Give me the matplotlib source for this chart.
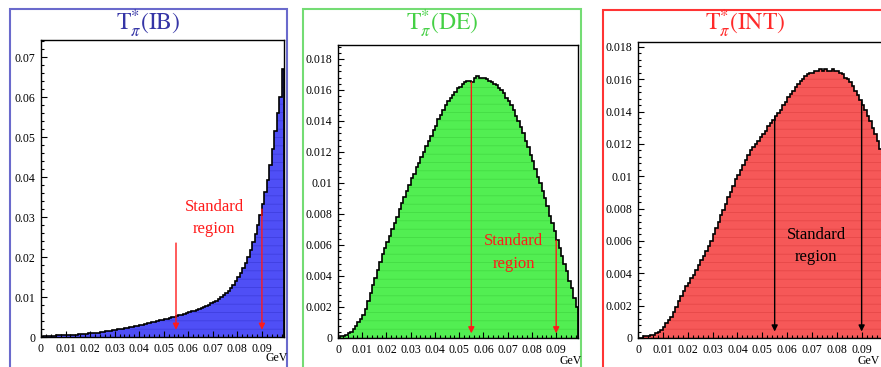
import numpy as np
import matplotlib.pyplot as plt
from matplotlib.patches import Rectangle
from matplotlib.ticker import MultipleLocator, FormatStrFormatter

# --- Data (bin contents, 1 MeV bins from 0 to 0.099 GeV) ---
ib_values = [
    0.0001, 0.0002, 0.0002, 0.0003, 0.0003, 0.0003, 0.0004, 0.0004, 0.0004, 0.0005,
    0.0005, 0.0005, 0.0006, 0.0006, 0.0006, 0.0007, 0.0007, 0.0008, 0.0008, 0.0009,
    0.0009, 0.0010, 0.0010, 0.0011, 0.0012, 0.0013, 0.0014, 0.0015, 0.0016, 0.0017,
    0.0018, 0.0019, 0.0020, 0.0021, 0.0022, 0.0023, 0.0024, 0.0026, 0.0027, 0.0028,
    0.0030, 0.0031, 0.0033, 0.0034, 0.0035, 0.0037, 0.0038, 0.0040, 0.0042, 0.0043,
    0.0045, 0.0046, 0.0048, 0.0049, 0.0051, 0.0052, 0.0054, 0.0056, 0.0058, 0.0060,
    0.0062, 0.0064, 0.0066, 0.0068, 0.0070, 0.0072, 0.0075, 0.0078, 0.0081, 0.0084,
    0.0087, 0.0091, 0.0095, 0.0099, 0.0104, 0.0110, 0.0116, 0.0123, 0.0131, 0.0140,
    0.0150, 0.0161, 0.0173, 0.0186, 0.0201, 0.0218, 0.0237, 0.0258, 0.0281, 0.0306,
    0.0333, 0.0362, 0.0394, 0.0430, 0.0470, 0.0515, 0.0560, 0.0600, 0.0670,
]
de_values = [
    0.0000, 0.0001, 0.0001, 0.0002, 0.0003, 0.0004, 0.0006, 0.0008, 0.0010, 0.0012,
    0.0015, 0.0019, 0.0024, 0.0029, 0.0034, 0.0039, 0.0044, 0.0049, 0.0054, 0.0058,
    0.0062, 0.0066, 0.0070, 0.0074, 0.0078, 0.0083, 0.0087, 0.0091, 0.0095, 0.0099,
    0.0103, 0.0106, 0.0110, 0.0113, 0.0117, 0.0120, 0.0124, 0.0127, 0.0130, 0.0134,
    0.0137, 0.0141, 0.0144, 0.0147, 0.0150, 0.0153, 0.0155, 0.0157, 0.0159, 0.0161,
    0.0162, 0.0164, 0.0165, 0.0166, 0.0166, 0.0165, 0.0168, 0.0169, 0.0168, 0.0168,
    0.0168, 0.0167, 0.0166, 0.0165, 0.0164, 0.0163, 0.0161, 0.0160, 0.0158, 0.0155,
    0.0153, 0.0150, 0.0147, 0.0143, 0.0140, 0.0136, 0.0132, 0.0127, 0.0123, 0.0118,
    0.0114, 0.0109, 0.0104, 0.0100, 0.0095, 0.0090, 0.0085, 0.0079, 0.0074, 0.0069,
    0.0063, 0.0058, 0.0053, 0.0048, 0.0043, 0.0037, 0.0032, 0.0026, 0.0020,
]
int_values = [
    0.0000, 0.0000, 0.0001, 0.0001, 0.0001, 0.0002, 0.0002, 0.0003, 0.0004, 0.0005,
    0.0007, 0.0009, 0.0011, 0.0013, 0.0016, 0.0019, 0.0023, 0.0026, 0.0029, 0.0032,
    0.0034, 0.0037, 0.0039, 0.0042, 0.0045, 0.0048, 0.0051, 0.0054, 0.0057, 0.0060,
    0.0064, 0.0068, 0.0072, 0.0076, 0.0079, 0.0083, 0.0087, 0.0090, 0.0094, 0.0098,
    0.0101, 0.0104, 0.0107, 0.0110, 0.0113, 0.0116, 0.0118, 0.0120, 0.0122, 0.0124,
    0.0126, 0.0128, 0.0131, 0.0133, 0.0135, 0.0137, 0.0139, 0.0141, 0.0144, 0.0146,
    0.0149, 0.0151, 0.0153, 0.0155, 0.0157, 0.0159, 0.0160, 0.0162, 0.0163, 0.0164,
    0.0164, 0.0165, 0.0165, 0.0166, 0.0165, 0.0166, 0.0165, 0.0165, 0.0166, 0.0165,
    0.0165, 0.0164, 0.0163, 0.0161, 0.0160, 0.0158, 0.0156, 0.0153, 0.0150, 0.0147,
    0.0144, 0.0141, 0.0137, 0.0134, 0.0130, 0.0126, 0.0122, 0.0117, 0.0110,
]

titles = [r'$\mathrm{T}^{*}_{\pi}\mathrm{(IB)}$', r'$\mathrm{T}^{*}_{\pi}\mathrm{(DE)}$',
          r'$\mathrm{T}^{*}_{\pi}\mathrm{(INT)}$']
arrow_x = [0.055, 0.09]
arrow_tops = [[0.0235, 0.032], [0.0165, 0.0063], [0.0137, 0.0146]]
arrow_tips = [0.0018, 0.0003, 0.0004]
label_pos = [(0.0705, 0.0298), (0.0725, 0.0055), (0.0717, 0.0057)]
ylims = [0.0743, 0.0189, 0.0183]
ymajor = [0.01, 0.002, 0.002]
yminor = [0.002, 0.0004, 0.0004]

# --- Style ---
plt.rcParams['font.family'] = ['Liberation Serif', 'DejaVu Serif']
plt.rcParams['mathtext.fontset'] = 'stix'
plt.rcParams['hatch.linewidth'] = 0.5

W, H = 881, 367
fig = plt.figure(figsize=(W / 100, H / 100), dpi=100)
fig.patch.set_facecolor('white')

def px_axes(left, right, top, bottom):
    return fig.add_axes([left / W, (H - bottom) / H, (right - left) / W, (bottom - top) / H])

axes_px = [(41, 284, 40, 337), (338, 578, 45, 338), (638, 884, 42, 338)]
frames_px = [(10, 287, 9), (303, 581, 9), (603, 887, 10)]
gev_px = [(288, 358), (582, 361), (880, 361)]
fill_colors = ['#4f4ff6', '#52ee52', '#f65858']
hatch_colors = ['#3c3cdc', '#42d842', '#e24444']
frame_colors = ['#6a6acc', '#74dc74', '#ff3434']
title_colors = ['#3535a6', '#45d045', '#ff2a2a']
note_colors = ['#ff1a1a', '#ff1a1a', 'black']
series = [ib_values, de_values, int_values]

edges = np.linspace(0, 0.099, len(ib_values) + 1)

for i in range(3):
    l, r, t, b = axes_px[i]
    ax = px_axes(l, r, t, b)
    vals = np.array(series[i])

    ax.stairs(vals, edges, fill=True, facecolor=fill_colors[i], edgecolor=hatch_colors[i],
              hatch='--', linewidth=0)
    ax.stairs(vals, edges, color='black', linewidth=1.2)

    ax.set_xlim(0, 0.099)
    ax.set_ylim(0, ylims[i])

    ax.xaxis.set_major_locator(MultipleLocator(0.01))
    ax.xaxis.set_minor_locator(MultipleLocator(0.002))
    ax.yaxis.set_major_locator(MultipleLocator(ymajor[i]))
    ax.yaxis.set_minor_locator(MultipleLocator(yminor[i]))
    ax.xaxis.set_major_formatter(FormatStrFormatter('%g'))
    ax.yaxis.set_major_formatter(FormatStrFormatter('%g'))
    ax.tick_params(which='both', direction='in', top=False, right=False, labelsize=8.5,
                   width=0.8, pad=4)
    ax.tick_params(which='major', length=4)
    ax.tick_params(which='minor', length=2)
    for s in ax.spines.values():
        s.set_linewidth(1.0)

    for x, top in zip(arrow_x, arrow_tops[i]):
        ax.annotate('', xy=(x, arrow_tips[i]), xytext=(x, top),
                    arrowprops=dict(arrowstyle='-|>', color=note_colors[i], lw=1.0,
                                    mutation_scale=9, shrinkA=0, shrinkB=0))
    ax.text(label_pos[i][0], label_pos[i][1], 'Standard\nregion', color=note_colors[i],
            fontsize=12, ha='center', va='center', linespacing=1.55)

    gx, gy = gev_px[i]
    fig.text(gx / W, (H - gy) / H, 'GeV', fontsize=8.5, ha='right', va='center')

    fl, fr, ft = frames_px[i]
    fig.add_artist(Rectangle((fl / W, -0.1), (fr - fl) / W, (H - ft) / H + 0.1,
                             transform=fig.transFigure, fill=False,
                             edgecolor=frame_colors[i], linewidth=1.5, clip_on=False))
    fig.text((fl + fr) / 2 / W, (H - 24) / H, titles[i], color=title_colors[i],
             fontsize=17, ha='center', va='center')

fig.savefig('out.png', dpi=100)
